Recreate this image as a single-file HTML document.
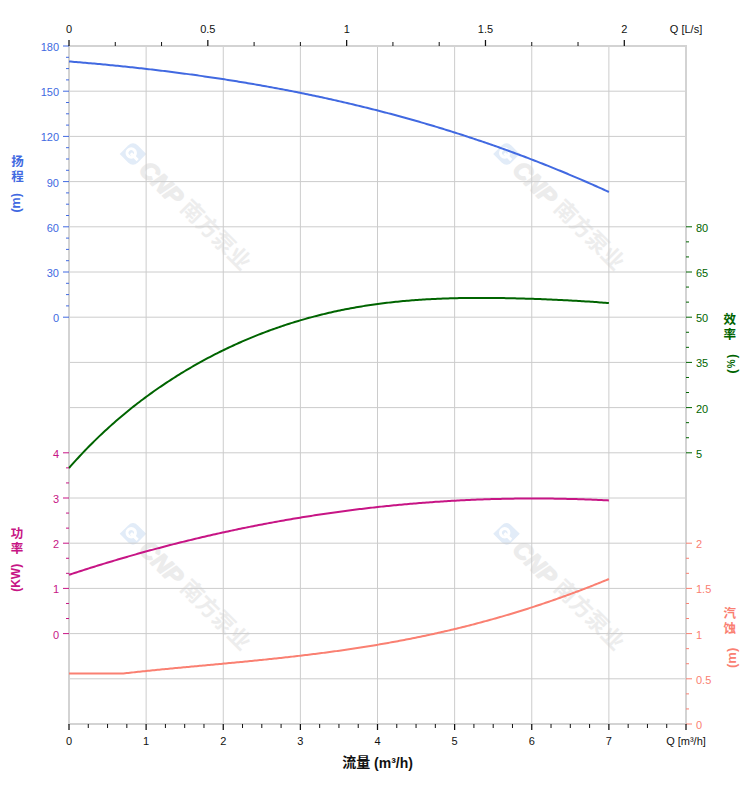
<!DOCTYPE html>
<html><head><meta charset="utf-8"><title>chart</title>
<style>html,body{margin:0;padding:0;background:#fff}body{width:752px;height:797px;overflow:hidden;font-family:"Liberation Sans",sans-serif}svg{display:block}</style>
</head><body>
<svg width="752" height="797" viewBox="0 0 752 797" font-family="'Liberation Sans', sans-serif" font-size="11">
<rect width="752" height="797" fill="#fff"/>
<g transform="translate(133 154) rotate(45)"><path d="M-9.4 9.4V-2.5Q-9.4 -9.4 -2.5 -9.4H9.4V2.5Q9.4 9.4 2.5 9.4Z" fill="#e2ecf8"/><circle cx="-2" cy="0.5" r="4.2" fill="none" stroke="#fff" stroke-width="3"/><path d="M-2 1H7.6" stroke="#fff" stroke-width="3" fill="none"/><text x="15.3" y="8.6" font-size="24" font-weight="bold" font-style="italic" fill="#ececec" stroke="#ececec" stroke-width="1.4" stroke-linejoin="round">CNP</text><text x="71.7 93.8 115.9 138.0" y="6.4" font-size="22" font-weight="bold" fill="#ededed" font-family="'Liberation Sans', 'Noto Sans CJK SC', sans-serif">南方泵业</text></g>
<g transform="translate(506.5 154) rotate(45)"><path d="M-9.4 9.4V-2.5Q-9.4 -9.4 -2.5 -9.4H9.4V2.5Q9.4 9.4 2.5 9.4Z" fill="#e2ecf8"/><circle cx="-2" cy="0.5" r="4.2" fill="none" stroke="#fff" stroke-width="3"/><path d="M-2 1H7.6" stroke="#fff" stroke-width="3" fill="none"/><text x="15.3" y="8.6" font-size="24" font-weight="bold" font-style="italic" fill="#ececec" stroke="#ececec" stroke-width="1.4" stroke-linejoin="round">CNP</text><text x="71.7 93.8 115.9 138.0" y="6.4" font-size="22" font-weight="bold" fill="#ededed" font-family="'Liberation Sans', 'Noto Sans CJK SC', sans-serif">南方泵业</text></g>
<g transform="translate(133 533.8) rotate(45)"><path d="M-9.4 9.4V-2.5Q-9.4 -9.4 -2.5 -9.4H9.4V2.5Q9.4 9.4 2.5 9.4Z" fill="#e2ecf8"/><circle cx="-2" cy="0.5" r="4.2" fill="none" stroke="#fff" stroke-width="3"/><path d="M-2 1H7.6" stroke="#fff" stroke-width="3" fill="none"/><text x="15.3" y="8.6" font-size="24" font-weight="bold" font-style="italic" fill="#ececec" stroke="#ececec" stroke-width="1.4" stroke-linejoin="round">CNP</text><text x="71.7 93.8 115.9 138.0" y="6.4" font-size="22" font-weight="bold" fill="#ededed" font-family="'Liberation Sans', 'Noto Sans CJK SC', sans-serif">南方泵业</text></g>
<g transform="translate(506.5 533.8) rotate(45)"><path d="M-9.4 9.4V-2.5Q-9.4 -9.4 -2.5 -9.4H9.4V2.5Q9.4 9.4 2.5 9.4Z" fill="#e2ecf8"/><circle cx="-2" cy="0.5" r="4.2" fill="none" stroke="#fff" stroke-width="3"/><path d="M-2 1H7.6" stroke="#fff" stroke-width="3" fill="none"/><text x="15.3" y="8.6" font-size="24" font-weight="bold" font-style="italic" fill="#ececec" stroke="#ececec" stroke-width="1.4" stroke-linejoin="round">CNP</text><text x="71.7 93.8 115.9 138.0" y="6.4" font-size="22" font-weight="bold" fill="#ededed" font-family="'Liberation Sans', 'Noto Sans CJK SC', sans-serif">南方泵业</text></g>
<path d="M146.125 46V724M223.250 46V724M300.375 46V724M377.500 46V724M454.625 46V724M531.750 46V724M608.875 46V724M69 91.200H686M69 136.400H686M69 181.600H686M69 226.800H686M69 272.000H686M69 317.200H686M69 362.400H686M69 407.600H686M69 452.800H686M69 498.000H686M69 543.200H686M69 588.400H686M69 633.600H686M69 678.800H686" stroke="#cccccc" stroke-width="1" fill="none"/>
<rect x="69" y="46" width="617" height="678" fill="none" stroke="#d3d3d3" stroke-width="2"/>
<polyline points="69.00,61.46 70.81,61.61 72.61,61.75 74.42,61.90 76.22,62.05 78.03,62.20 79.83,62.35 81.64,62.51 83.45,62.66 85.25,62.82 87.06,62.97 88.86,63.13 90.67,63.29 92.47,63.45 94.28,63.62 96.09,63.78 97.89,63.95 99.70,64.11 101.50,64.28 103.31,64.45 105.11,64.62 106.92,64.79 108.73,64.97 110.53,65.14 112.34,65.32 114.14,65.50 115.95,65.68 117.75,65.86 119.56,66.04 121.36,66.22 123.17,66.41 124.98,66.60 126.78,66.78 128.59,66.97 130.39,67.17 132.20,67.36 134.00,67.55 135.81,67.75 137.62,67.95 139.42,68.14 141.23,68.34 143.03,68.55 144.84,68.75 146.64,68.96 148.45,69.16 150.26,69.37 152.06,69.58 153.87,69.79 155.67,70.01 157.48,70.22 159.28,70.44 161.09,70.65 162.90,70.87 164.70,71.09 166.51,71.32 168.31,71.54 170.12,71.77 171.92,72.00 173.73,72.23 175.54,72.46 177.34,72.69 179.15,72.92 180.95,73.16 182.76,73.40 184.56,73.64 186.37,73.88 188.18,74.12 189.98,74.37 191.79,74.61 193.59,74.86 195.40,75.11 197.20,75.36 199.01,75.62 200.82,75.87 202.62,76.13 204.43,76.39 206.23,76.65 208.04,76.91 209.84,77.17 211.65,77.44 213.45,77.71 215.26,77.98 217.07,78.25 218.87,78.52 220.68,78.80 222.48,79.07 224.29,79.35 226.09,79.63 227.90,79.92 229.71,80.20 231.51,80.49 233.32,80.78 235.12,81.07 236.93,81.36 238.73,81.65 240.54,81.95 242.35,82.24 244.15,82.54 245.96,82.85 247.76,83.15 249.57,83.45 251.37,83.76 253.18,84.07 254.99,84.38 256.79,84.70 258.60,85.01 260.40,85.33 262.21,85.65 264.01,85.97 265.82,86.29 267.63,86.62 269.43,86.95 271.24,87.27 273.04,87.61 274.85,87.94 276.65,88.27 278.46,88.61 280.27,88.95 282.07,89.29 283.88,89.64 285.68,89.98 287.49,90.33 289.29,90.68 291.10,91.03 292.91,91.39 294.71,91.74 296.52,92.10 298.32,92.46 300.13,92.83 301.93,93.19 303.74,93.56 305.54,93.93 307.35,94.30 309.16,94.67 310.96,95.05 312.77,95.43 314.57,95.81 316.38,96.19 318.18,96.57 319.99,96.96 321.80,97.35 323.60,97.74 325.41,98.13 327.21,98.53 329.02,98.93 330.82,99.33 332.63,99.73 334.44,100.13 336.24,100.54 338.05,100.95 339.85,101.36 341.66,101.77 343.46,102.19 345.27,102.61 347.08,103.03 348.88,103.45 350.69,103.88 352.49,104.31 354.30,104.74 356.10,105.17 357.91,105.60 359.72,106.04 361.52,106.48 363.33,106.92 365.13,107.36 366.94,107.81 368.74,108.26 370.55,108.71 372.36,109.17 374.16,109.62 375.97,110.08 377.77,110.54 379.58,111.00 381.38,111.47 383.19,111.94 384.99,112.41 386.80,112.88 388.61,113.36 390.41,113.84 392.22,114.32 394.02,114.80 395.83,115.29 397.63,115.77 399.44,116.27 401.25,116.76 403.05,117.25 404.86,117.75 406.66,118.25 408.47,118.76 410.27,119.26 412.08,119.77 413.89,120.28 415.69,120.80 417.50,121.31 419.30,121.83 421.11,122.35 422.91,122.88 424.72,123.40 426.53,123.93 428.33,124.46 430.14,125.00 431.94,125.53 433.75,126.07 435.55,126.62 437.36,127.16 439.17,127.71 440.97,128.26 442.78,128.81 444.58,129.37 446.39,129.92 448.19,130.49 450.00,131.05 451.81,131.62 453.61,132.18 455.42,132.76 457.22,133.33 459.03,133.91 460.83,134.49 462.64,135.07 464.45,135.66 466.25,136.24 468.06,136.84 469.86,137.43 471.67,138.03 473.47,138.62 475.28,139.23 477.08,139.83 478.89,140.44 480.70,141.05 482.50,141.66 484.31,142.28 486.11,142.90 487.92,143.52 489.72,144.14 491.53,144.77 493.34,145.40 495.14,146.04 496.95,146.67 498.75,147.31 500.56,147.95 502.36,148.60 504.17,149.25 505.98,149.90 507.78,150.55 509.59,151.21 511.39,151.86 513.20,152.53 515.00,153.19 516.81,153.86 518.62,154.53 520.42,155.21 522.23,155.88 524.03,156.56 525.84,157.25 527.64,157.93 529.45,158.62 531.26,159.31 533.06,160.01 534.87,160.71 536.67,161.41 538.48,162.11 540.28,162.82 542.09,163.53 543.90,164.24 545.70,164.96 547.51,165.68 549.31,166.40 551.12,167.12 552.92,167.85 554.73,168.58 556.54,169.32 558.34,170.06 560.15,170.80 561.95,171.54 563.76,172.29 565.56,173.04 567.37,173.79 569.17,174.55 570.98,175.31 572.79,176.07 574.59,176.84 576.40,177.61 578.20,178.38 580.01,179.15 581.81,179.93 583.62,180.71 585.43,181.50 587.23,182.29 589.04,183.08 590.84,183.87 592.65,184.67 594.45,185.47 596.26,186.28 598.07,187.08 599.87,187.90 601.68,188.71 603.48,189.53 605.29,190.35 607.09,191.17 608.90,192.00" fill="none" stroke="#4169E1" stroke-width="2"/>
<polyline points="69.00,468.02 70.81,465.96 72.61,463.92 74.42,461.91 76.22,459.92 78.03,457.95 79.83,456.00 81.64,454.07 83.45,452.16 85.25,450.28 87.06,448.41 88.86,446.57 90.67,444.74 92.47,442.93 94.28,441.15 96.09,439.38 97.89,437.63 99.70,435.90 101.50,434.18 103.31,432.49 105.11,430.81 106.92,429.15 108.73,427.50 110.53,425.88 112.34,424.27 114.14,422.67 115.95,421.09 117.75,419.53 119.56,417.98 121.36,416.45 123.17,414.94 124.98,413.43 126.78,411.95 128.59,410.48 130.39,409.02 132.20,407.58 134.00,406.15 135.81,404.73 137.62,403.33 139.42,401.94 141.23,400.57 143.03,399.21 144.84,397.86 146.64,396.53 148.45,395.21 150.26,393.90 152.06,392.60 153.87,391.31 155.67,390.04 157.48,388.78 159.28,387.53 161.09,386.30 162.90,385.07 164.70,383.86 166.51,382.66 168.31,381.47 170.12,380.29 171.92,379.12 173.73,377.97 175.54,376.82 177.34,375.69 179.15,374.56 180.95,373.45 182.76,372.35 184.56,371.26 186.37,370.18 188.18,369.11 189.98,368.04 191.79,366.99 193.59,365.95 195.40,364.92 197.20,363.90 199.01,362.89 200.82,361.89 202.62,360.90 204.43,359.92 206.23,358.94 208.04,357.98 209.84,357.03 211.65,356.09 213.45,355.15 215.26,354.23 217.07,353.31 218.87,352.40 220.68,351.51 222.48,350.62 224.29,349.74 226.09,348.87 227.90,348.01 229.71,347.15 231.51,346.31 233.32,345.47 235.12,344.65 236.93,343.83 238.73,343.02 240.54,342.22 242.35,341.43 244.15,340.65 245.96,339.87 247.76,339.11 249.57,338.35 251.37,337.60 253.18,336.86 254.99,336.12 256.79,335.40 258.60,334.68 260.40,333.97 262.21,333.27 264.01,332.58 265.82,331.90 267.63,331.22 269.43,330.56 271.24,329.90 273.04,329.24 274.85,328.60 276.65,327.96 278.46,327.34 280.27,326.72 282.07,326.10 283.88,325.50 285.68,324.90 287.49,324.31 289.29,323.73 291.10,323.16 292.91,322.59 294.71,322.03 296.52,321.48 298.32,320.94 300.13,320.40 301.93,319.87 303.74,319.35 305.54,318.84 307.35,318.33 309.16,317.83 310.96,317.34 312.77,316.86 314.57,316.38 316.38,315.91 318.18,315.45 319.99,314.99 321.80,314.55 323.60,314.10 325.41,313.67 327.21,313.24 329.02,312.82 330.82,312.41 332.63,312.00 334.44,311.60 336.24,311.21 338.05,310.83 339.85,310.45 341.66,310.07 343.46,309.71 345.27,309.35 347.08,309.00 348.88,308.65 350.69,308.31 352.49,307.98 354.30,307.65 356.10,307.33 357.91,307.02 359.72,306.71 361.52,306.41 363.33,306.12 365.13,305.83 366.94,305.54 368.74,305.27 370.55,305.00 372.36,304.73 374.16,304.47 375.97,304.22 377.77,303.98 379.58,303.74 381.38,303.50 383.19,303.27 384.99,303.05 386.80,302.83 388.61,302.62 390.41,302.41 392.22,302.21 394.02,302.01 395.83,301.82 397.63,301.64 399.44,301.46 401.25,301.28 403.05,301.11 404.86,300.95 406.66,300.79 408.47,300.63 410.27,300.48 412.08,300.34 413.89,300.20 415.69,300.06 417.50,299.93 419.30,299.81 421.11,299.69 422.91,299.57 424.72,299.46 426.53,299.35 428.33,299.25 430.14,299.15 431.94,299.05 433.75,298.96 435.55,298.88 437.36,298.80 439.17,298.72 440.97,298.64 442.78,298.57 444.58,298.51 446.39,298.44 448.19,298.38 450.00,298.33 451.81,298.28 453.61,298.23 455.42,298.19 457.22,298.14 459.03,298.11 460.83,298.07 462.64,298.04 464.45,298.01 466.25,297.99 468.06,297.97 469.86,297.95 471.67,297.93 473.47,297.92 475.28,297.91 477.08,297.90 478.89,297.90 480.70,297.90 482.50,297.90 484.31,297.91 486.11,297.91 487.92,297.92 489.72,297.93 491.53,297.95 493.34,297.96 495.14,297.98 496.95,298.00 498.75,298.03 500.56,298.05 502.36,298.08 504.17,298.11 505.98,298.15 507.78,298.18 509.59,298.22 511.39,298.26 513.20,298.30 515.00,298.34 516.81,298.38 518.62,298.43 520.42,298.48 522.23,298.53 524.03,298.58 525.84,298.63 527.64,298.69 529.45,298.74 531.26,298.80 533.06,298.86 534.87,298.93 536.67,298.99 538.48,299.06 540.28,299.12 542.09,299.19 543.90,299.26 545.70,299.33 547.51,299.41 549.31,299.48 551.12,299.56 552.92,299.64 554.73,299.72 556.54,299.80 558.34,299.89 560.15,299.97 561.95,300.06 563.76,300.15 565.56,300.24 567.37,300.33 569.17,300.43 570.98,300.53 572.79,300.63 574.59,300.73 576.40,300.83 578.20,300.93 580.01,301.04 581.81,301.15 583.62,301.26 585.43,301.38 587.23,301.49 589.04,301.61 590.84,301.73 592.65,301.86 594.45,301.98 596.26,302.11 598.07,302.25 599.87,302.38 601.68,302.52 603.48,302.66 605.29,302.81 607.09,302.95 608.90,303.11" fill="none" stroke="#006400" stroke-width="2"/>
<polyline points="69.00,574.82 70.81,574.22 72.61,573.63 74.42,573.04 76.22,572.45 78.03,571.86 79.83,571.28 81.64,570.70 83.45,570.12 85.25,569.54 87.06,568.96 88.86,568.39 90.67,567.82 92.47,567.25 94.28,566.69 96.09,566.13 97.89,565.57 99.70,565.01 101.50,564.45 103.31,563.90 105.11,563.35 106.92,562.80 108.73,562.25 110.53,561.71 112.34,561.17 114.14,560.63 115.95,560.09 117.75,559.56 119.56,559.02 121.36,558.49 123.17,557.97 124.98,557.44 126.78,556.92 128.59,556.40 130.39,555.88 132.20,555.37 134.00,554.85 135.81,554.34 137.62,553.83 139.42,553.33 141.23,552.82 143.03,552.32 144.84,551.82 146.64,551.32 148.45,550.83 150.26,550.34 152.06,549.85 153.87,549.36 155.67,548.88 157.48,548.39 159.28,547.91 161.09,547.43 162.90,546.96 164.70,546.49 166.51,546.02 168.31,545.55 170.12,545.08 171.92,544.62 173.73,544.15 175.54,543.70 177.34,543.24 179.15,542.78 180.95,542.33 182.76,541.88 184.56,541.43 186.37,540.99 188.18,540.55 189.98,540.11 191.79,539.67 193.59,539.23 195.40,538.80 197.20,538.37 199.01,537.94 200.82,537.51 202.62,537.09 204.43,536.67 206.23,536.25 208.04,535.83 209.84,535.42 211.65,535.00 213.45,534.59 215.26,534.19 217.07,533.78 218.87,533.38 220.68,532.98 222.48,532.58 224.29,532.18 226.09,531.79 227.90,531.40 229.71,531.01 231.51,530.62 233.32,530.24 235.12,529.86 236.93,529.48 238.73,529.10 240.54,528.72 242.35,528.35 244.15,527.98 245.96,527.61 247.76,527.25 249.57,526.88 251.37,526.52 253.18,526.16 254.99,525.81 256.79,525.45 258.60,525.10 260.40,524.75 262.21,524.41 264.01,524.06 265.82,523.72 267.63,523.38 269.43,523.04 271.24,522.71 273.04,522.37 274.85,522.04 276.65,521.71 278.46,521.39 280.27,521.06 282.07,520.74 283.88,520.42 285.68,520.11 287.49,519.79 289.29,519.48 291.10,519.17 292.91,518.86 294.71,518.56 296.52,518.25 298.32,517.95 300.13,517.66 301.93,517.36 303.74,517.07 305.54,516.78 307.35,516.49 309.16,516.20 310.96,515.92 312.77,515.63 314.57,515.35 316.38,515.08 318.18,514.80 319.99,514.53 321.80,514.26 323.60,513.99 325.41,513.72 327.21,513.46 329.02,513.20 330.82,512.94 332.63,512.68 334.44,512.43 336.24,512.18 338.05,511.93 339.85,511.68 341.66,511.44 343.46,511.19 345.27,510.95 347.08,510.72 348.88,510.48 350.69,510.25 352.49,510.02 354.30,509.79 356.10,509.56 357.91,509.34 359.72,509.11 361.52,508.89 363.33,508.68 365.13,508.46 366.94,508.25 368.74,508.04 370.55,507.83 372.36,507.63 374.16,507.42 375.97,507.22 377.77,507.02 379.58,506.83 381.38,506.63 383.19,506.44 384.99,506.25 386.80,506.06 388.61,505.88 390.41,505.69 392.22,505.51 394.02,505.34 395.83,505.16 397.63,504.99 399.44,504.82 401.25,504.65 403.05,504.48 404.86,504.32 406.66,504.15 408.47,503.99 410.27,503.84 412.08,503.68 413.89,503.53 415.69,503.38 417.50,503.23 419.30,503.08 421.11,502.94 422.91,502.80 424.72,502.66 426.53,502.52 428.33,502.39 430.14,502.26 431.94,502.13 433.75,502.00 435.55,501.87 437.36,501.75 439.17,501.63 440.97,501.51 442.78,501.40 444.58,501.28 446.39,501.17 448.19,501.06 450.00,500.95 451.81,500.85 453.61,500.75 455.42,500.65 457.22,500.55 459.03,500.45 460.83,500.36 462.64,500.27 464.45,500.18 466.25,500.09 468.06,500.01 469.86,499.93 471.67,499.85 473.47,499.77 475.28,499.69 477.08,499.62 478.89,499.55 480.70,499.48 482.50,499.42 484.31,499.35 486.11,499.29 487.92,499.23 489.72,499.18 491.53,499.12 493.34,499.07 495.14,499.02 496.95,498.97 498.75,498.93 500.56,498.88 502.36,498.84 504.17,498.80 505.98,498.77 507.78,498.73 509.59,498.70 511.39,498.67 513.20,498.65 515.00,498.62 516.81,498.60 518.62,498.58 520.42,498.56 522.23,498.54 524.03,498.53 525.84,498.52 527.64,498.51 529.45,498.50 531.26,498.50 533.06,498.50 534.87,498.50 536.67,498.50 538.48,498.50 540.28,498.51 542.09,498.52 543.90,498.53 545.70,498.54 547.51,498.56 549.31,498.58 551.12,498.60 552.92,498.62 554.73,498.65 556.54,498.67 558.34,498.70 560.15,498.73 561.95,498.77 563.76,498.80 565.56,498.84 567.37,498.88 569.17,498.93 570.98,498.97 572.79,499.02 574.59,499.07 576.40,499.12 578.20,499.18 580.01,499.23 581.81,499.29 583.62,499.35 585.43,499.42 587.23,499.48 589.04,499.55 590.84,499.62 592.65,499.69 594.45,499.77 596.26,499.84 598.07,499.92 599.87,500.01 601.68,500.09 603.48,500.17 605.29,500.26 607.09,500.35 608.90,500.45" fill="none" stroke="#C71585" stroke-width="2"/>
<polyline points="69,673.5 123.50,673.46 125.12,673.28 126.75,673.09 128.37,672.91 129.99,672.73 131.62,672.56 133.24,672.38 134.86,672.20 136.49,672.03 138.11,671.85 139.73,671.68 141.36,671.51 142.98,671.34 144.60,671.17 146.23,671.00 147.85,670.84 149.47,670.67 151.10,670.50 152.72,670.34 154.34,670.18 155.97,670.01 157.59,669.85 159.22,669.69 160.84,669.53 162.46,669.37 164.09,669.21 165.71,669.06 167.33,668.90 168.96,668.74 170.58,668.59 172.20,668.43 173.83,668.27 175.45,668.12 177.07,667.97 178.70,667.81 180.32,667.66 181.94,667.51 183.57,667.35 185.19,667.20 186.81,667.05 188.44,666.90 190.06,666.75 191.68,666.59 193.31,666.44 194.93,666.29 196.55,666.14 198.18,665.99 199.80,665.84 201.42,665.69 203.05,665.54 204.67,665.39 206.29,665.24 207.92,665.09 209.54,664.94 211.16,664.79 212.79,664.64 214.41,664.49 216.03,664.34 217.66,664.19 219.28,664.04 220.90,663.88 222.53,663.73 224.15,663.58 225.77,663.43 227.40,663.28 229.02,663.12 230.65,662.97 232.27,662.82 233.89,662.66 235.52,662.51 237.14,662.35 238.76,662.20 240.39,662.04 242.01,661.88 243.63,661.73 245.26,661.57 246.88,661.41 248.50,661.25 250.13,661.09 251.75,660.93 253.37,660.77 255.00,660.61 256.62,660.45 258.24,660.28 259.87,660.12 261.49,659.95 263.11,659.79 264.74,659.62 266.36,659.45 267.98,659.28 269.61,659.11 271.23,658.94 272.85,658.77 274.48,658.60 276.10,658.43 277.72,658.25 279.35,658.08 280.97,657.90 282.59,657.72 284.22,657.54 285.84,657.36 287.46,657.18 289.09,657.00 290.71,656.82 292.33,656.63 293.96,656.45 295.58,656.26 297.21,656.07 298.83,655.88 300.45,655.69 302.08,655.50 303.70,655.30 305.32,655.11 306.95,654.91 308.57,654.72 310.19,654.52 311.82,654.31 313.44,654.11 315.06,653.91 316.69,653.70 318.31,653.50 319.93,653.29 321.56,653.08 323.18,652.87 324.80,652.65 326.43,652.44 328.05,652.22 329.67,652.00 331.30,651.79 332.92,651.56 334.54,651.34 336.17,651.12 337.79,650.89 339.41,650.66 341.04,650.43 342.66,650.20 344.28,649.97 345.91,649.73 347.53,649.49 349.15,649.25 350.78,649.01 352.40,648.77 354.02,648.53 355.65,648.28 357.27,648.03 358.89,647.78 360.52,647.53 362.14,647.27 363.76,647.02 365.39,646.76 367.01,646.50 368.64,646.24 370.26,645.97 371.88,645.70 373.51,645.44 375.13,645.16 376.75,644.89 378.38,644.62 380.00,644.34 381.62,644.06 383.25,643.78 384.87,643.49 386.49,643.21 388.12,642.92 389.74,642.63 391.36,642.34 392.99,642.04 394.61,641.75 396.23,641.45 397.86,641.15 399.48,640.84 401.10,640.54 402.73,640.23 404.35,639.92 405.97,639.60 407.60,639.29 409.22,638.97 410.84,638.65 412.47,638.33 414.09,638.00 415.71,637.67 417.34,637.34 418.96,637.01 420.58,636.68 422.21,636.34 423.83,636.00 425.45,635.66 427.08,635.31 428.70,634.96 430.32,634.61 431.95,634.26 433.57,633.91 435.19,633.55 436.82,633.19 438.44,632.83 440.07,632.46 441.69,632.09 443.31,631.72 444.94,631.35 446.56,630.98 448.18,630.60 449.81,630.22 451.43,629.83 453.05,629.45 454.68,629.06 456.30,628.67 457.92,628.27 459.55,627.88 461.17,627.48 462.79,627.07 464.42,626.67 466.04,626.26 467.66,625.85 469.29,625.44 470.91,625.02 472.53,624.60 474.16,624.18 475.78,623.76 477.40,623.33 479.03,622.90 480.65,622.47 482.27,622.03 483.90,621.59 485.52,621.15 487.14,620.71 488.77,620.26 490.39,619.81 492.01,619.36 493.64,618.91 495.26,618.45 496.88,617.99 498.51,617.52 500.13,617.06 501.75,616.59 503.38,616.11 505.00,615.64 506.63,615.16 508.25,614.68 509.87,614.19 511.50,613.71 513.12,613.22 514.74,612.73 516.37,612.23 517.99,611.73 519.61,611.23 521.24,610.72 522.86,610.22 524.48,609.71 526.11,609.19 527.73,608.68 529.35,608.16 530.98,607.64 532.60,607.11 534.22,606.58 535.85,606.05 537.47,605.52 539.09,604.98 540.72,604.44 542.34,603.90 543.96,603.35 545.59,602.80 547.21,602.25 548.83,601.69 550.46,601.14 552.08,600.58 553.70,600.01 555.33,599.44 556.95,598.87 558.57,598.30 560.20,597.72 561.82,597.15 563.44,596.56 565.07,595.98 566.69,595.39 568.31,594.80 569.94,594.20 571.56,593.61 573.18,593.01 574.81,592.40 576.43,591.80 578.06,591.19 579.68,590.58 581.30,589.96 582.93,589.34 584.55,588.72 586.17,588.10 587.80,587.47 589.42,586.84 591.04,586.20 592.67,585.57 594.29,584.93 595.91,584.28 597.54,583.64 599.16,582.99 600.78,582.34 602.41,581.68 604.03,581.02 605.65,580.36 607.28,579.70 608.90,579.03" fill="none" stroke="#FA8072" stroke-width="2"/>
<path d="M63 46.00H69M66 57.30H69M66 68.60H69M66 79.90H69M63 91.20H69M66 102.50H69M66 113.80H69M66 125.10H69M63 136.40H69M66 147.70H69M66 159.00H69M66 170.30H69M63 181.60H69M66 192.90H69M66 204.20H69M66 215.50H69M63 226.80H69M66 238.10H69M66 249.40H69M66 260.70H69M63 272.00H69M66 283.30H69M66 294.60H69M66 305.90H69M63 317.20H69" stroke="#4169E1" stroke-width="1" fill="none"/>
<path d="M63 452.80H69M66 467.87H69M66 482.93H69M63 498.00H69M66 513.07H69M66 528.13H69M63 543.20H69M66 558.27H69M66 573.33H69M63 588.40H69M66 603.47H69M66 618.53H69M63 633.60H69" stroke="#C71585" stroke-width="1" fill="none"/>
<path d="M686 226.80H692M686 241.87H689M686 256.93H689M686 272.00H692M686 287.07H689M686 302.13H689M686 317.20H692M686 332.27H689M686 347.33H689M686 362.40H692M686 377.47H689M686 392.53H689M686 407.60H692M686 422.67H689M686 437.73H689M686 452.80H692" stroke="#006400" stroke-width="1" fill="none"/>
<path d="M686 543.20H692M686 558.27H689M686 573.33H689M686 588.40H692M686 603.47H689M686 618.53H689M686 633.60H692M686 648.67H689M686 663.73H689M686 678.80H692M686 693.87H689M686 708.93H689M686 724.00H692" stroke="#FA8072" stroke-width="1" fill="none"/>
<text x="59.0" y="51.0" fill="#4169E1" text-anchor="end">180</text>
<text x="59.0" y="96.2" fill="#4169E1" text-anchor="end">150</text>
<text x="59.0" y="141.4" fill="#4169E1" text-anchor="end">120</text>
<text x="59.0" y="186.6" fill="#4169E1" text-anchor="end">90</text>
<text x="59.0" y="231.8" fill="#4169E1" text-anchor="end">60</text>
<text x="59.0" y="277.0" fill="#4169E1" text-anchor="end">30</text>
<text x="59.0" y="322.2" fill="#4169E1" text-anchor="end">0</text>
<text x="59.0" y="457.8" fill="#C71585" text-anchor="end">4</text>
<text x="59.0" y="503.0" fill="#C71585" text-anchor="end">3</text>
<text x="59.0" y="548.2" fill="#C71585" text-anchor="end">2</text>
<text x="59.0" y="593.4" fill="#C71585" text-anchor="end">1</text>
<text x="59.0" y="638.6" fill="#C71585" text-anchor="end">0</text>
<text x="696" y="231.8" fill="#006400" text-anchor="start">80</text>
<text x="696" y="277.0" fill="#006400" text-anchor="start">65</text>
<text x="696" y="322.2" fill="#006400" text-anchor="start">50</text>
<text x="696" y="367.4" fill="#006400" text-anchor="start">35</text>
<text x="696" y="412.6" fill="#006400" text-anchor="start">20</text>
<text x="696" y="457.8" fill="#006400" text-anchor="start">5</text>
<text x="696" y="548.2" fill="#FA8072" text-anchor="start">2</text>
<text x="696" y="593.4" fill="#FA8072" text-anchor="start">1.5</text>
<text x="696" y="638.6" fill="#FA8072" text-anchor="start">1</text>
<text x="696" y="683.8" fill="#FA8072" text-anchor="start">0.5</text>
<text x="696" y="729.0" fill="#FA8072" text-anchor="start">0</text>
<path d="M69.00 724V730M146.12 724V730M223.25 724V730M300.38 724V730M377.50 724V730M454.62 724V730M531.75 724V730M608.88 724V730M686.00 724V730" stroke="#111" stroke-width="1.25" fill="none"/>
<path d="M88.28 724V728M107.56 724V728M126.84 724V728M165.41 724V728M184.69 724V728M203.97 724V728M242.53 724V728M261.81 724V728M281.09 724V728M319.66 724V728M338.94 724V728M358.22 724V728M396.78 724V728M416.06 724V728M435.34 724V728M473.91 724V728M493.19 724V728M512.47 724V728M551.03 724V728M570.31 724V728M589.59 724V728M628.16 724V728M647.44 724V728M666.72 724V728" stroke="#111" stroke-width="1" fill="none"/>
<text x="69.0" y="745.0" fill="#111" text-anchor="middle">0</text>
<text x="146.1" y="745.0" fill="#111" text-anchor="middle">1</text>
<text x="223.2" y="745.0" fill="#111" text-anchor="middle">2</text>
<text x="300.4" y="745.0" fill="#111" text-anchor="middle">3</text>
<text x="377.5" y="745.0" fill="#111" text-anchor="middle">4</text>
<text x="454.6" y="745.0" fill="#111" text-anchor="middle">5</text>
<text x="531.8" y="745.0" fill="#111" text-anchor="middle">6</text>
<text x="608.9" y="745.0" fill="#111" text-anchor="middle">7</text>
<text x="686" y="745.0" fill="#111" text-anchor="middle">Q [m³/h]</text>
<path d="M69.00 40V46M207.83 40V46M346.65 40V46M485.48 40V46M624.30 40V46" stroke="#111" stroke-width="1.25" fill="none"/>
<path d="M115.28 42V46M161.55 42V46M254.10 42V46M300.38 42V46M392.93 42V46M439.20 42V46M531.75 42V46M578.02 42V46" stroke="#111" stroke-width="1" fill="none"/>
<text x="69.0" y="33.0" fill="#111" text-anchor="middle">0</text>
<text x="207.8" y="33.0" fill="#111" text-anchor="middle">0.5</text>
<text x="346.7" y="33.0" fill="#111" text-anchor="middle">1</text>
<text x="485.5" y="33.0" fill="#111" text-anchor="middle">1.5</text>
<text x="624.3" y="33.0" fill="#111" text-anchor="middle">2</text>
<text x="686" y="33.0" fill="#111" text-anchor="middle">Q [L/s]</text>
<text x="342.2" y="767.3" font-size="14" font-weight="bold" fill="#111" font-family="'Liberation Sans', 'Noto Sans CJK SC', sans-serif">流量</text>
<text x="374.1" y="767.5" font-size="14" font-weight="bold" fill="#111">(m³/h)</text>
<text x="11.3" y="166.35" font-size="12.5" font-weight="bold" fill="#4169E1" font-family="'Liberation Sans', 'Noto Sans CJK SC', sans-serif">扬</text>
<text x="11.3" y="181.35" font-size="12.5" font-weight="bold" fill="#4169E1" font-family="'Liberation Sans', 'Noto Sans CJK SC', sans-serif">程</text>
<text transform="translate(20.3 212.6) rotate(-90)" font-size="12.5" font-weight="bold" fill="#4169E1">(m)</text>
<text x="10.7" y="537.55" font-size="12.5" font-weight="bold" fill="#C71585" font-family="'Liberation Sans', 'Noto Sans CJK SC', sans-serif">功</text>
<text x="10.7" y="552.55" font-size="12.5" font-weight="bold" fill="#C71585" font-family="'Liberation Sans', 'Noto Sans CJK SC', sans-serif">率</text>
<text transform="translate(20.0 591.8) rotate(-90)" font-size="12" font-weight="bold" fill="#C71585">(KW)</text>
<text x="723.5" y="324.15" font-size="12.5" font-weight="bold" fill="#006400" font-family="'Liberation Sans', 'Noto Sans CJK SC', sans-serif">效</text>
<text x="723.5" y="339.35" font-size="12.5" font-weight="bold" fill="#006400" font-family="'Liberation Sans', 'Noto Sans CJK SC', sans-serif">率</text>
<text transform="translate(735.8 373.6) rotate(-90)" font-size="12.5" font-weight="bold" fill="#006400">(<tspan font-size="10" dx="1.2" dy="-0.5">%</tspan><tspan dx="1.2" dy="0.5">)</tspan></text>
<text x="723.5" y="618.05" font-size="12.5" font-weight="bold" fill="#FA8072" font-family="'Liberation Sans', 'Noto Sans CJK SC', sans-serif">汽</text>
<text x="723.5" y="632.75" font-size="12.5" font-weight="bold" fill="#FA8072" font-family="'Liberation Sans', 'Noto Sans CJK SC', sans-serif">蚀</text>
<text transform="translate(735.8 668.0) rotate(-90)" font-size="13" font-weight="bold" fill="#FA8072">(m)</text>
</svg>
</body></html>
